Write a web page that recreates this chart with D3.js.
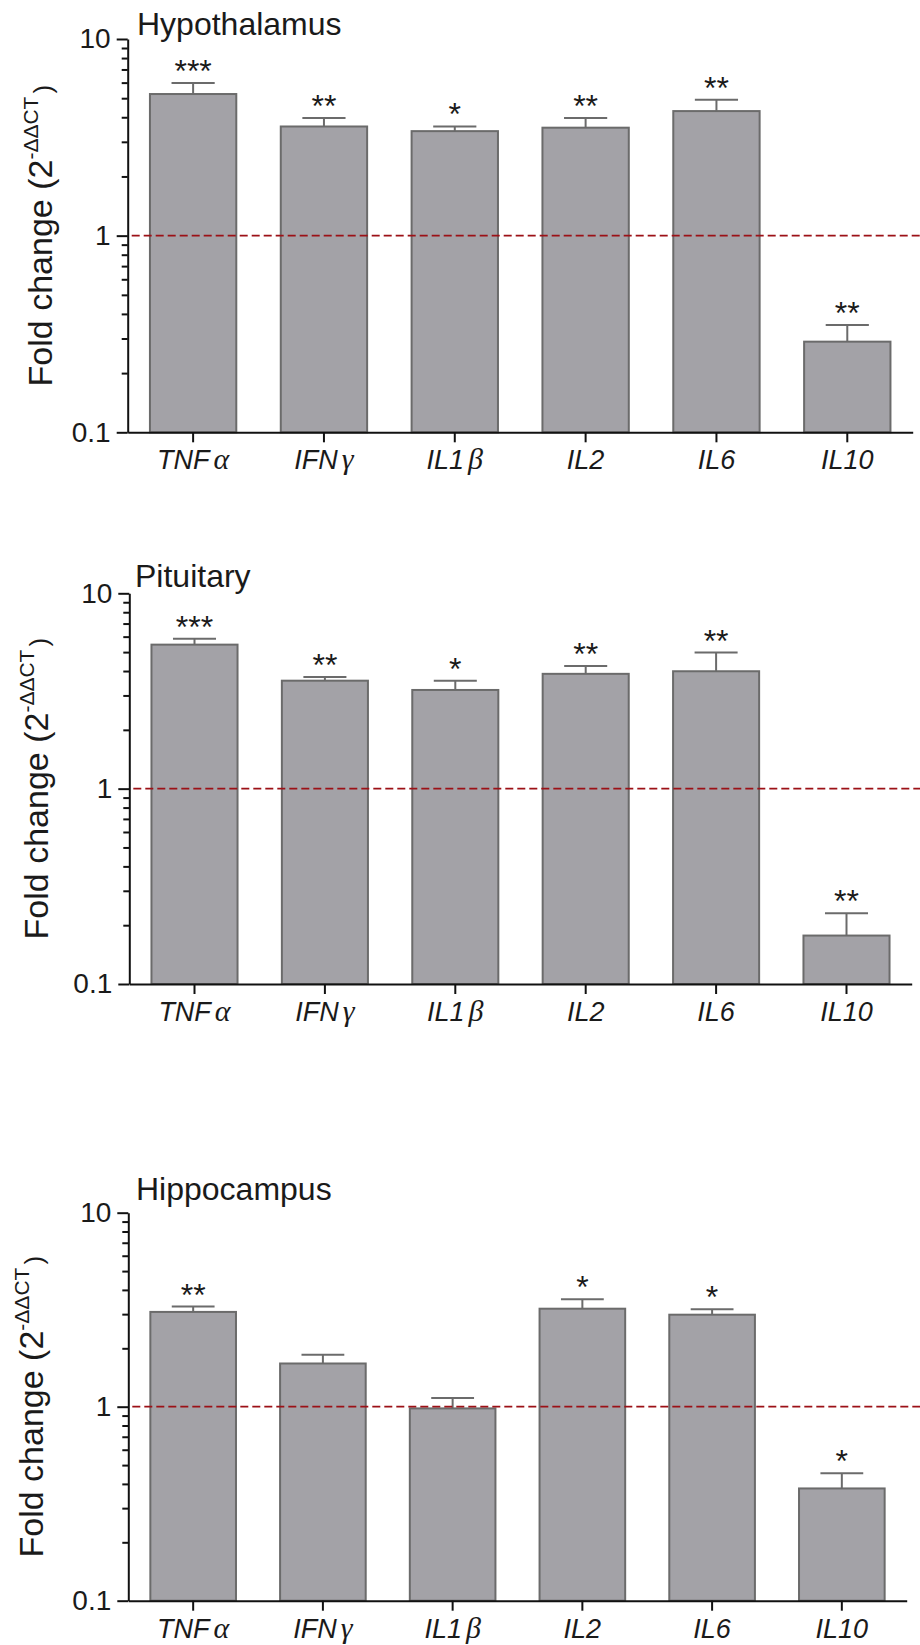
<!DOCTYPE html>
<html>
<head>
<meta charset="utf-8">
<script src="https://cdn.jsdelivr.net/npm/d3@7"></script>
<style>
  body { margin: 0; background: #fff; }
  svg { display: block; }
  text { font-family: "Liberation Sans", Arial, sans-serif; fill: #1a1a1a; }
</style>
</head>
<body>
<svg id="chart" width="920" height="1645"></svg>
<script>
// genes on the x axis (name + greek suffix drawn in a serif face)
const genes = ["TNF", "IFN", "IL1", "IL2", "IL6", "IL10"];
const greek = ["α", "γ", "β", "", "", ""];
const yMajor = [0.1, 1, 10];
const yMinor = [0.2, 0.3, 0.4, 0.5, 0.6, 0.7, 0.8, 0.9, 2, 3, 4, 5, 6, 7, 8, 9];

// fold change (2^-ddCT), mean and SEM (upper only)
const hypoMean = [5.25, 3.59, 3.40, 3.54, 4.30, 0.289];
const hypoErr = [0.72, 0.37, 0.19, 0.42, 0.61, 0.062];
const hypoStars = ["***", "**", "*", "**", "**", "**"];

const pitMean = [5.46, 3.57, 3.20, 3.87, 3.99, 0.177];
const pitErr = [0.40, 0.16, 0.37, 0.38, 0.98, 0.053];
const pitStars = ["***", "**", "*", "**", "**", "**"];

const hippoMean = [3.08, 1.67, 0.98, 3.20, 2.98, 0.379];
const hippoErr = [0.20, 0.18, 0.13, 0.38, 0.20, 0.075];
const hippoStars = ["**", "", "", "*", "*", "*"];

const panels = [
  {title: "Hypothalamus", mean: hypoMean, err: hypoErr, stars: hypoStars,
   left: 127.7, right: 912.7, top: 39, bottom: 432.3, titleX: 137, titleY: 35, labelX: 52},
  {title: "Pituitary", mean: pitMean, err: pitErr, stars: pitStars,
   left: 129.3, right: 911.7, top: 593.3, bottom: 984, titleX: 135, titleY: 587, labelX: 48},
  {title: "Hippocampus", mean: hippoMean, err: hippoErr, stars: hippoStars,
   left: 128.3, right: 906.7, top: 1212.7, bottom: 1600.7, titleX: 136, titleY: 1200, labelX: 43}
];

const svg = d3.select("#chart");
const barFill = "#a3a2a7", barStroke = "#6b6b6b", axisColor = "#111";

panels.forEach(function(p) {
  const g = svg.append("g");

  const x = d3.scaleBand()
    .domain(d3.range(genes.length))
    .range([p.left, p.right])
    .paddingInner(0.34)
    .paddingOuter(0.17);
  const y = d3.scaleLog()
    .domain([0.1, 10])
    .range([p.bottom, p.top]);

  // bars
  g.selectAll(".bar")
    .data(p.mean)
    .enter().append("rect")
      .attr("class", "bar")
      .attr("x", (d, i) => x(i))
      .attr("y", d => y(d))
      .attr("width", x.bandwidth())
      .attr("height", d => y(0.1) - y(d))
      .style("fill", barFill)
      .style("stroke", barStroke)
      .style("stroke-width", 2);

  // error bars, upper half only
  const capW = x.bandwidth() * 0.5;
  const eb = g.selectAll(".err")
    .data(p.mean)
    .enter().append("g")
      .attr("class", "err")
      .style("stroke", barStroke)
      .style("stroke-width", 2);
  eb.append("line")
    .attr("x1", (d, i) => x(i) + x.bandwidth() / 2)
    .attr("x2", (d, i) => x(i) + x.bandwidth() / 2)
    .attr("y1", d => y(d))
    .attr("y2", (d, i) => y(d + p.err[i]));
  eb.append("line")
    .attr("x1", (d, i) => x(i) + x.bandwidth() / 2 - capW / 2)
    .attr("x2", (d, i) => x(i) + x.bandwidth() / 2 + capW / 2)
    .attr("y1", (d, i) => y(d + p.err[i]))
    .attr("y2", (d, i) => y(d + p.err[i]));

  // significance stars
  g.selectAll(".star")
    .data(p.stars)
    .enter().append("text")
      .attr("class", "star")
      .attr("x", (d, i) => x(i) + x.bandwidth() / 2)
      .attr("y", (d, i) => y(p.mean[i] + p.err[i]) - 1)
      .attr("text-anchor", "middle")
      .style("font-size", "32px")
      .text(d => d);

  // reference line at fold change = 1
  g.append("line")
    .attr("x1", p.left + 4)
    .attr("x2", 920)
    .attr("y1", y(1))
    .attr("y2", y(1))
    .style("stroke", "#9c1117")
    .style("stroke-width", 1.8)
    .style("stroke-dasharray", "8,4");

  // y axis, major + minor ticks
  const yAx = g.append("g")
    .attr("transform", `translate(${p.left},0)`)
    .call(d3.axisLeft(y).tickValues(yMajor).tickSize(11).tickSizeOuter(0)
      .tickPadding(6).tickFormat(d3.format("~g")));
  yAx.selectAll("path, line").style("stroke", axisColor).style("stroke-width", 2);
  yAx.selectAll("text")
    .style("font-size", "28px")
    .style("font-family", "'Liberation Sans', Arial, sans-serif")
    .style("fill", "#1a1a1a");

  const yMin = g.append("g")
    .attr("transform", `translate(${p.left},0)`)
    .call(d3.axisLeft(y).tickValues(yMinor).tickSize(6).tickFormat(""));
  yMin.select(".domain").remove();
  yMin.selectAll("line").style("stroke", axisColor).style("stroke-width", 2);

  // x axis
  const xAx = g.append("g")
    .attr("transform", `translate(0,${p.bottom})`)
    .call(d3.axisBottom(x).tickSize(10).tickSizeOuter(0).tickFormat(""));
  xAx.selectAll("path, line").style("stroke", axisColor).style("stroke-width", 2);

  // gene labels
  const lab = g.selectAll(".gene")
    .data(genes)
    .enter().append("text")
      .attr("class", "gene")
      .attr("x", (d, i) => x(i) + x.bandwidth() / 2)
      .attr("y", p.bottom + 37)
      .attr("text-anchor", "middle")
      .style("font-size", "27px")
      .style("font-style", "italic");
  lab.append("tspan").text(d => d);
  lab.append("tspan")
    .attr("dx", 4)
    .style("font-family", "'Liberation Serif', 'DejaVu Serif', serif")
    .style("font-size", "30px")
    .text((d, i) => greek[i]);

  // panel title
  g.append("text")
    .attr("x", p.titleX)
    .attr("y", p.titleY)
    .style("font-size", "32px")
    .text(p.title);

  // y axis title with superscript
  const yl = g.append("text")
    .attr("transform", `translate(${p.labelX},${(p.top + p.bottom) / 2}) rotate(-90)`)
    .attr("text-anchor", "middle")
    .style("font-size", "34px");
  yl.append("tspan").text("Fold change (2");
  yl.append("tspan").attr("dy", -14).style("font-size", "21px").text("-ΔΔCT");
  yl.append("tspan").attr("dy", 14).attr("dx", 3).style("font-size", "26px").text(")");
});
</script>
</body>
</html>
